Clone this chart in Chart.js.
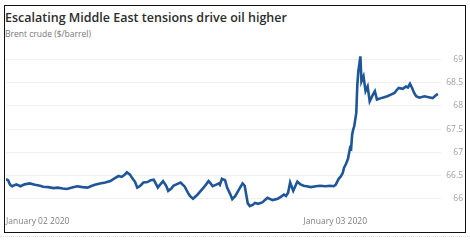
<!DOCTYPE html>
<html>
<head>
<meta charset="utf-8">
<script src="https://cdn.jsdelivr.net/npm/chart.js@4.4.1/dist/chart.umd.min.js"></script>
<style>
  body { margin: 0; background: #fff; }
  #wrap { position: relative; width: 470px; height: 241px; overflow: hidden; font-family: "Open Sans", sans-serif; }
  #box { position: absolute; left: 4px; top: 5px; width: 460px; height: 226px; border: 1px solid #111; }
  #title { position: absolute; left: 5px; top: 9px; font-size: 12.5px; font-weight: 600; color: #2b2b2b; white-space: nowrap; }
  #subtitle { position: absolute; left: 5px; top: 28px; font-size: 8.5px; color: #777; white-space: nowrap; }
  #chartBox { position: absolute; left: 5px; top: 45px; width: 460px; height: 185px; }
  #dots { position: absolute; left: 0; top: 236px; width: 470px; border-top: 1px dotted #ddd; }
</style>
</head>
<body>
<div id="wrap">
  <div id="box"></div>
  <div id="title">Escalating Middle East tensions drive oil higher</div>
  <div id="subtitle">Brent crude ($/barrel)</div>
  <div id="chartBox"><canvas id="oilChart"></canvas></div>
  <div id="dots"></div>
</div>
<script>
// Horas (UTC) de las cotizaciones
const times = [
  '2020-01-02T00:00Z', '2020-01-02T00:10Z', '2020-01-02T00:20Z', '2020-01-02T00:30Z', '2020-01-02T00:50Z',
  '2020-01-02T01:10Z', '2020-01-02T01:30Z', '2020-01-02T01:55Z', '2020-01-02T02:20Z', '2020-01-02T02:45Z',
  '2020-01-02T03:00Z', '2020-01-02T03:25Z', '2020-01-02T03:50Z', '2020-01-02T04:10Z', '2020-01-02T04:35Z',
  '2020-01-02T04:55Z', '2020-01-02T05:20Z', '2020-01-02T05:45Z', '2020-01-02T06:10Z', '2020-01-02T06:35Z',
  '2020-01-02T06:50Z', '2020-01-02T07:10Z', '2020-01-02T07:35Z', '2020-01-02T08:00Z', '2020-01-02T08:25Z',
  '2020-01-02T08:45Z', '2020-01-02T09:05Z', '2020-01-02T09:20Z', '2020-01-02T09:35Z', '2020-01-02T09:45Z',
  '2020-01-02T10:00Z', '2020-01-02T10:10Z', '2020-01-02T10:25Z', '2020-01-02T10:35Z', '2020-01-02T10:50Z',
  '2020-01-02T11:05Z', '2020-01-02T11:25Z', '2020-01-02T11:40Z', '2020-01-02T11:55Z', '2020-01-02T12:00Z',
  '2020-01-02T12:15Z', '2020-01-02T12:25Z', '2020-01-02T12:40Z', '2020-01-02T12:55Z', '2020-01-02T13:05Z',
  '2020-01-02T13:20Z', '2020-01-02T13:30Z', '2020-01-02T13:50Z', '2020-01-02T14:05Z', '2020-01-02T14:25Z',
  '2020-01-02T14:40Z', '2020-01-02T14:50Z', '2020-01-02T15:05Z', '2020-01-02T15:25Z', '2020-01-02T15:40Z',
  '2020-01-02T16:00Z', '2020-01-02T16:20Z', '2020-01-02T16:30Z', '2020-01-02T16:40Z', '2020-01-02T16:55Z',
  '2020-01-02T17:10Z', '2020-01-02T17:15Z', '2020-01-02T17:25Z', '2020-01-02T17:40Z', '2020-01-02T17:50Z',
  '2020-01-02T18:05Z', '2020-01-02T18:15Z', '2020-01-02T18:30Z', '2020-01-02T18:45Z', '2020-01-02T19:05Z',
  '2020-01-02T19:15Z', '2020-01-02T19:30Z', '2020-01-02T19:40Z', '2020-01-02T19:55Z', '2020-01-02T20:05Z',
  '2020-01-02T20:20Z', '2020-01-02T20:40Z', '2020-01-02T21:05Z', '2020-01-02T21:30Z', '2020-01-02T21:55Z',
  '2020-01-02T22:10Z', '2020-01-02T22:25Z', '2020-01-02T22:35Z', '2020-01-02T22:45Z', '2020-01-02T22:55Z',
  '2020-01-02T23:10Z', '2020-01-02T23:30Z', '2020-01-02T23:45Z', '2020-01-03T00:00Z', '2020-01-03T00:15Z',
  '2020-01-03T00:35Z', '2020-01-03T01:00Z', '2020-01-03T01:20Z', '2020-01-03T01:45Z', '2020-01-03T02:10Z',
  '2020-01-03T02:25Z', '2020-01-03T02:35Z', '2020-01-03T02:50Z', '2020-01-03T03:00Z', '2020-01-03T03:10Z',
  '2020-01-03T03:15Z', '2020-01-03T03:25Z', '2020-01-03T03:35Z', '2020-01-03T03:45Z', '2020-01-03T03:50Z',
  '2020-01-03T03:55Z', '2020-01-03T04:00Z', '2020-01-03T04:05Z', '2020-01-03T04:15Z', '2020-01-03T04:20Z',
  '2020-01-03T04:25Z', '2020-01-03T04:35Z', '2020-01-03T04:40Z', '2020-01-03T04:50Z', '2020-01-03T05:00Z',
  '2020-01-03T05:10Z', '2020-01-03T05:20Z', '2020-01-03T05:35Z', '2020-01-03T05:45Z', '2020-01-03T05:55Z',
  '2020-01-03T06:15Z', '2020-01-03T06:30Z', '2020-01-03T06:45Z', '2020-01-03T07:00Z', '2020-01-03T07:20Z',
  '2020-01-03T07:30Z', '2020-01-03T07:40Z', '2020-01-03T08:00Z', '2020-01-03T08:15Z', '2020-01-03T08:25Z',
  '2020-01-03T08:35Z', '2020-01-03T08:45Z', '2020-01-03T08:55Z', '2020-01-03T09:05Z', '2020-01-03T09:20Z',
  '2020-01-03T09:45Z', '2020-01-03T10:05Z', '2020-01-03T10:25Z', '2020-01-03T10:40Z', '2020-01-03T10:50Z'
];

// Precio del Brent ($/barril)
const prices = [
  66.42, 66.40, 66.30, 66.27, 66.31,
  66.27, 66.31, 66.33, 66.30, 66.28,
  66.26, 66.25, 66.23, 66.24, 66.22,
  66.21, 66.24, 66.27, 66.25, 66.24,
  66.27, 66.30, 66.33, 66.35, 66.38,
  66.44, 66.49, 66.47, 66.52, 66.57,
  66.52, 66.45, 66.36, 66.24, 66.28,
  66.35, 66.36, 66.40, 66.41, 66.37,
  66.24, 66.30, 66.38, 66.28, 66.17,
  66.22, 66.28, 66.32, 66.35, 66.26,
  66.13, 66.06, 66.00, 66.08, 66.16,
  66.26, 66.38, 66.33, 66.27, 66.30,
  66.33, 66.30, 66.43, 66.40, 66.24,
  66.10, 65.99, 66.06, 66.18, 66.33,
  66.28, 65.90, 65.84, 65.87, 65.91,
  65.89, 65.92, 66.02, 65.97, 66.00,
  66.04, 66.09, 66.06, 66.13, 66.35,
  66.17, 66.37, 66.31, 66.28, 66.27,
  66.25, 66.27, 66.28, 66.27, 66.28,
  66.27, 66.30, 66.43, 66.48, 66.56,
  66.66, 66.75, 66.86, 67.10, 67.08,
  67.38, 67.49, 67.56, 67.85, 68.45,
  68.75, 69.07, 68.53, 68.64, 68.32,
  68.42, 68.10, 68.24, 68.32, 68.14,
  68.17, 68.19, 68.21, 68.24, 68.28,
  68.34, 68.39, 68.37, 68.42, 68.40,
  68.48, 68.39, 68.28, 68.21, 68.18,
  68.21, 68.19, 68.17, 68.23, 68.26
];

// Etiquetas de los ejes
const xTickTimes = ['2020-01-02T00:00Z', '2020-01-03T00:00Z'];
const xTickLabels = ['January 02 2020', 'January 03 2020'];
const yTickValues = [66, 66.5, 67, 67.5, 68, 68.5, 69];
const xRange = ['2020-01-02T00:00Z', '2020-01-03T11:05Z'];
const yRange = [65.8, 69.1];

const points = times.map((t, i) => ({ x: Date.parse(t), y: prices[i] }));
const xTicks = xTickTimes.map(t => Date.parse(t));

new Chart(document.getElementById('oilChart'), {
    type: 'line',
    data: {
        datasets: [{
            label: 'Brent crude',
            data: points,
            borderColor: '#1f5698',
            borderWidth: 2.6,
            pointRadius: 0,
            tension: 0,
            fill: false
        }]
    },
    options: {
        responsive: true,
        maintainAspectRatio: false,
        animation: false,
        layout: { padding: { left: 1, right: 2, top: 10, bottom: 2 } },
        plugins: {
            legend: { display: false },
            tooltip: { enabled: false }
        },
        scales: {
            x: {
                type: 'linear',
                min: Date.parse(xRange[0]),
                max: Date.parse(xRange[1]),
                grid: { display: false, drawTicks: false },
                border: { display: false },
                afterBuildTicks: scale => {
                    scale.ticks = xTicks.map(v => ({ value: v }));
                },
                afterFit: scale => {
                    scale.height = 20;
                    scale.paddingLeft = 0;
                    scale.paddingRight = 0;
                },
                ticks: {
                    align: 'start',
                    maxRotation: 0,
                    autoSkip: false,
                    padding: 8,
                    color: '#808080',
                    font: { family: 'Open Sans', size: 8.5 },
                    callback: (value) => xTickLabels[xTicks.indexOf(value)]
                }
            },
            y: {
                position: 'right',
                min: yRange[0],
                max: yRange[1],
                grid: { color: '#f0f0f0', lineWidth: 1, drawTicks: false },
                border: { display: false },
                afterBuildTicks: scale => {
                    scale.ticks = yTickValues.map(v => ({ value: v }));
                },
                afterFit: scale => {
                    scale.width = 22;
                    scale.paddingTop = 0;
                    scale.paddingBottom = 0;
                },
                ticks: {
                    crossAlign: 'far',
                    padding: 0,
                    color: '#a0a0a0',
                    font: { family: 'Open Sans', size: 8.5 },
                    callback: (value) => String(value)
                }
            }
        }
    }
});
</script>
</body>
</html>
